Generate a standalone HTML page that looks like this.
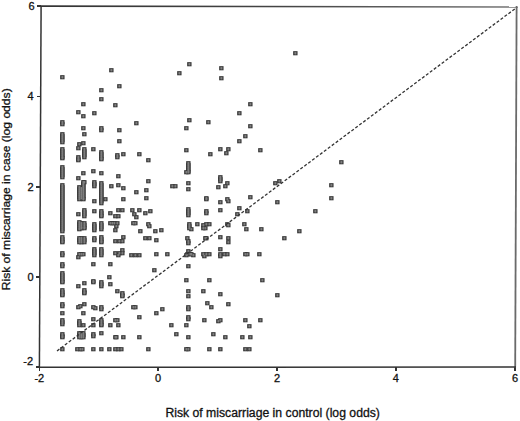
<!DOCTYPE html>
<html><head><meta charset="utf-8"><style>
html,body{margin:0;padding:0;background:#fff;}
body{width:520px;height:421px;overflow:hidden;}
svg{display:block;}
text{font-family:"Liberation Sans",sans-serif;fill:#111;stroke:#111;stroke-width:0.3px;}
</style></head><body>
<svg width="520" height="421" viewBox="0 0 520 421" shape-rendering="crispEdges">
<defs>
<linearGradient id="tg" x1="0" y1="0" x2="1" y2="0"><stop offset="0" stop-color="#333"/><stop offset="0.5" stop-color="#444"/><stop offset="1" stop-color="#777"/></linearGradient>
</defs>
<rect width="520" height="421" fill="#fff"/>
<g font-size="11">
<line x1="39.3" y1="367" x2="39.3" y2="370.5" stroke="#333" stroke-width="1.6"/>
<text x="39.3" y="382" text-anchor="middle">-2</text>
<line x1="158.1" y1="367" x2="158.1" y2="370.5" stroke="#333" stroke-width="1.6"/>
<text x="158.1" y="382" text-anchor="middle">0</text>
<line x1="277.1" y1="367" x2="277.1" y2="370.5" stroke="#333" stroke-width="1.6"/>
<text x="277.1" y="382" text-anchor="middle">2</text>
<line x1="395.8" y1="367" x2="395.8" y2="370.5" stroke="#333" stroke-width="1.6"/>
<text x="395.8" y="382" text-anchor="middle">4</text>
<line x1="515.1" y1="367" x2="515.1" y2="370.5" stroke="#333" stroke-width="1.6"/>
<text x="515.1" y="382" text-anchor="middle">6</text>
<line x1="37.2" y1="6.0" x2="41.0" y2="6.0" stroke="#333" stroke-width="1.6"/>
<text x="34.5" y="9.6" text-anchor="end">6</text>
<line x1="36.8" y1="96.3" x2="40.6" y2="96.3" stroke="#333" stroke-width="1.6"/>
<text x="33.5" y="100.3" text-anchor="end">4</text>
<line x1="36.3" y1="186.7" x2="40.1" y2="186.7" stroke="#333" stroke-width="1.6"/>
<text x="33.5" y="190.7" text-anchor="end">2</text>
<line x1="35.9" y1="276.8" x2="39.7" y2="276.8" stroke="#333" stroke-width="1.6"/>
<text x="33.5" y="280.8" text-anchor="end">0</text>
<line x1="35.5" y1="367.1" x2="39.3" y2="367.1" stroke="#333" stroke-width="1.6"/>
<text x="33.0" y="365.2" text-anchor="end">-2</text>
</g>
<line x1="37" y1="6.1" x2="518" y2="7.0" stroke="url(#tg)" stroke-width="1.6" shape-rendering="auto"/>
<line x1="516.6" y1="6" x2="515.2" y2="367.8" stroke="#6a6a6a" stroke-width="1.8" shape-rendering="auto"/>
<line x1="41.1" y1="6" x2="39.4" y2="368" stroke="#333" stroke-width="1.5" shape-rendering="auto"/>
<line x1="38.5" y1="367.2" x2="516" y2="367.1" stroke="#333" stroke-width="1.5" shape-rendering="auto"/>
<g>
<g shape-rendering="geometricPrecision"><g fill="#383838"><rect x="60.15" y="75.15" width="4.4" height="4.15"/><rect x="60.15" y="120.15" width="4.4" height="4.15"/><rect x="60.15" y="122.15" width="4.4" height="4.15"/><rect x="60.15" y="132.15" width="4.4" height="4.15"/><rect x="60.15" y="134.15" width="4.4" height="4.15"/><rect x="60.15" y="136.15" width="4.4" height="4.15"/><rect x="60.15" y="138.15" width="4.4" height="4.15"/><rect x="60.15" y="140.15" width="4.4" height="4.15"/><rect x="60.15" y="147.15" width="4.4" height="4.15"/><rect x="60.15" y="149.15" width="4.4" height="4.15"/><rect x="60.15" y="151.15" width="4.4" height="4.15"/><rect x="60.15" y="153.15" width="4.4" height="4.15"/><rect x="60.15" y="155.15" width="4.4" height="4.15"/><rect x="60.15" y="156.15" width="4.4" height="4.15"/><rect x="60.15" y="165.15" width="4.4" height="4.15"/><rect x="60.15" y="167.15" width="4.4" height="4.15"/><rect x="60.15" y="169.15" width="4.4" height="4.15"/><rect x="60.15" y="171.15" width="4.4" height="4.15"/><rect x="60.15" y="173.15" width="4.4" height="4.15"/><rect x="60.15" y="175.15" width="4.4" height="4.15"/><rect x="60.15" y="183.15" width="4.4" height="4.15"/><rect x="60.15" y="185.15" width="4.4" height="4.15"/><rect x="60.15" y="187.15" width="4.4" height="4.15"/><rect x="60.15" y="189.15" width="4.4" height="4.15"/><rect x="60.15" y="191.15" width="4.4" height="4.15"/><rect x="60.15" y="193.15" width="4.4" height="4.15"/><rect x="60.15" y="195.15" width="4.4" height="4.15"/><rect x="60.15" y="197.15" width="4.4" height="4.15"/><rect x="60.15" y="199.15" width="4.4" height="4.15"/><rect x="60.15" y="201.15" width="4.4" height="4.15"/><rect x="60.15" y="203.15" width="4.4" height="4.15"/><rect x="60.15" y="205.15" width="4.4" height="4.15"/><rect x="60.15" y="207.15" width="4.4" height="4.15"/><rect x="60.15" y="209.15" width="4.4" height="4.15"/><rect x="60.15" y="211.15" width="4.4" height="4.15"/><rect x="60.15" y="213.15" width="4.4" height="4.15"/><rect x="60.15" y="215.15" width="4.4" height="4.15"/><rect x="60.15" y="217.15" width="4.4" height="4.15"/><rect x="60.15" y="219.15" width="4.4" height="4.15"/><rect x="60.15" y="221.15" width="4.4" height="4.15"/><rect x="60.15" y="223.15" width="4.4" height="4.15"/><rect x="60.15" y="225.15" width="4.4" height="4.15"/><rect x="60.15" y="227.15" width="4.4" height="4.15"/><rect x="60.15" y="229.15" width="4.4" height="4.15"/><rect x="60.15" y="235.15" width="4.4" height="4.15"/><rect x="60.15" y="237.15" width="4.4" height="4.15"/><rect x="60.15" y="239.15" width="4.4" height="4.15"/><rect x="60.15" y="240.15" width="4.4" height="4.15"/><rect x="60.15" y="251.15" width="4.4" height="4.15"/><rect x="60.15" y="253.15" width="4.4" height="4.15"/><rect x="60.15" y="262.15" width="4.4" height="4.15"/><rect x="60.15" y="264.15" width="4.4" height="4.15"/><rect x="60.15" y="271.15" width="4.4" height="4.15"/><rect x="60.15" y="273.15" width="4.4" height="4.15"/><rect x="60.15" y="275.15" width="4.4" height="4.15"/><rect x="60.15" y="277.15" width="4.4" height="4.15"/><rect x="60.15" y="279.15" width="4.4" height="4.15"/><rect x="60.15" y="280.15" width="4.4" height="4.15"/><rect x="60.15" y="288.15" width="4.4" height="4.15"/><rect x="60.15" y="290.15" width="4.4" height="4.15"/><rect x="60.15" y="292.15" width="4.4" height="4.15"/><rect x="60.15" y="293.15" width="4.4" height="4.15"/><rect x="60.15" y="302.15" width="4.4" height="4.15"/><rect x="60.15" y="304.15" width="4.4" height="4.15"/><rect x="60.15" y="311.15" width="4.4" height="4.15"/><rect x="60.15" y="318.15" width="4.4" height="4.15"/><rect x="60.15" y="320.15" width="4.4" height="4.15"/><rect x="60.15" y="322.15" width="4.4" height="4.15"/><rect x="60.15" y="332.15" width="4.4" height="4.15"/><rect x="60.15" y="334.15" width="4.4" height="4.15"/><rect x="60.15" y="335.15" width="4.4" height="4.15"/><rect x="60.15" y="347.15" width="4.4" height="4.15"/><rect x="76.15" y="110.15" width="4.4" height="4.15"/><rect x="81.15" y="102.15" width="4.4" height="4.15"/><rect x="81.15" y="114.15" width="4.4" height="4.15"/><rect x="81.15" y="126.15" width="4.4" height="4.15"/><rect x="82.15" y="132.15" width="4.4" height="4.15"/><rect x="77.15" y="142.15" width="4.4" height="4.15"/><rect x="81.15" y="141.15" width="4.4" height="4.15"/><rect x="76.15" y="146.15" width="4.4" height="4.15"/><rect x="82.15" y="147.15" width="4.4" height="4.15"/><rect x="82.15" y="149.15" width="4.4" height="4.15"/><rect x="82.15" y="151.15" width="4.4" height="4.15"/><rect x="82.15" y="153.15" width="4.4" height="4.15"/><rect x="82.15" y="155.15" width="4.4" height="4.15"/><rect x="76.15" y="155.15" width="4.4" height="4.15"/><rect x="76.15" y="157.15" width="4.4" height="4.15"/><rect x="76.15" y="158.15" width="4.4" height="4.15"/><rect x="81.15" y="171.15" width="4.4" height="4.15"/><rect x="76.15" y="176.15" width="4.4" height="4.15"/><rect x="82.15" y="180.15" width="4.4" height="4.15"/><rect x="77.15" y="185.15" width="4.4" height="4.15"/><rect x="77.15" y="187.15" width="4.4" height="4.15"/><rect x="77.15" y="189.15" width="4.4" height="4.15"/><rect x="77.15" y="191.15" width="4.4" height="4.15"/><rect x="77.15" y="193.15" width="4.4" height="4.15"/><rect x="77.15" y="195.15" width="4.4" height="4.15"/><rect x="77.15" y="197.15" width="4.4" height="4.15"/><rect x="81.15" y="180.15" width="4.4" height="4.15"/><rect x="81.15" y="182.15" width="4.4" height="4.15"/><rect x="81.15" y="184.15" width="4.4" height="4.15"/><rect x="81.15" y="186.15" width="4.4" height="4.15"/><rect x="81.15" y="188.15" width="4.4" height="4.15"/><rect x="81.15" y="190.15" width="4.4" height="4.15"/><rect x="81.15" y="192.15" width="4.4" height="4.15"/><rect x="81.15" y="194.15" width="4.4" height="4.15"/><rect x="81.15" y="196.15" width="4.4" height="4.15"/><rect x="81.15" y="197.15" width="4.4" height="4.15"/><rect x="79.15" y="186.15" width="4.4" height="4.15"/><rect x="79.15" y="188.15" width="4.4" height="4.15"/><rect x="79.15" y="190.15" width="4.4" height="4.15"/><rect x="79.15" y="192.15" width="4.4" height="4.15"/><rect x="79.15" y="194.15" width="4.4" height="4.15"/><rect x="79.15" y="196.15" width="4.4" height="4.15"/><rect x="76.15" y="212.15" width="4.4" height="4.15"/><rect x="82.15" y="208.15" width="4.4" height="4.15"/><rect x="82.15" y="210.15" width="4.4" height="4.15"/><rect x="82.15" y="212.15" width="4.4" height="4.15"/><rect x="82.15" y="214.15" width="4.4" height="4.15"/><rect x="77.15" y="220.15" width="4.4" height="4.15"/><rect x="77.15" y="222.15" width="4.4" height="4.15"/><rect x="77.15" y="224.15" width="4.4" height="4.15"/><rect x="77.15" y="226.15" width="4.4" height="4.15"/><rect x="77.15" y="227.15" width="4.4" height="4.15"/><rect x="82.15" y="221.15" width="4.4" height="4.15"/><rect x="82.15" y="223.15" width="4.4" height="4.15"/><rect x="82.15" y="225.15" width="4.4" height="4.15"/><rect x="82.15" y="226.15" width="4.4" height="4.15"/><rect x="79.15" y="221.15" width="4.4" height="4.15"/><rect x="79.15" y="223.15" width="4.4" height="4.15"/><rect x="79.15" y="225.15" width="4.4" height="4.15"/><rect x="79.15" y="226.15" width="4.4" height="4.15"/><rect x="77.15" y="236.15" width="4.4" height="4.15"/><rect x="77.15" y="238.15" width="4.4" height="4.15"/><rect x="77.15" y="240.15" width="4.4" height="4.15"/><rect x="82.15" y="236.15" width="4.4" height="4.15"/><rect x="82.15" y="238.15" width="4.4" height="4.15"/><rect x="82.15" y="240.15" width="4.4" height="4.15"/><rect x="79.15" y="236.15" width="4.4" height="4.15"/><rect x="79.15" y="238.15" width="4.4" height="4.15"/><rect x="79.15" y="240.15" width="4.4" height="4.15"/><rect x="77.15" y="252.15" width="4.4" height="4.15"/><rect x="79.15" y="252.15" width="4.4" height="4.15"/><rect x="81.15" y="252.15" width="4.4" height="4.15"/><rect x="76.15" y="255.15" width="4.4" height="4.15"/><rect x="82.15" y="281.15" width="4.4" height="4.15"/><rect x="76.15" y="284.15" width="4.4" height="4.15"/><rect x="82.15" y="288.15" width="4.4" height="4.15"/><rect x="82.15" y="290.15" width="4.4" height="4.15"/><rect x="82.15" y="291.15" width="4.4" height="4.15"/><rect x="82.15" y="302.15" width="4.4" height="4.15"/><rect x="76.15" y="305.15" width="4.4" height="4.15"/><rect x="78.15" y="304.15" width="4.4" height="4.15"/><rect x="81.15" y="311.15" width="4.4" height="4.15"/><rect x="77.15" y="319.15" width="4.4" height="4.15"/><rect x="77.15" y="321.15" width="4.4" height="4.15"/><rect x="77.15" y="323.15" width="4.4" height="4.15"/><rect x="81.15" y="323.15" width="4.4" height="4.15"/><rect x="77.15" y="331.15" width="4.4" height="4.15"/><rect x="77.15" y="333.15" width="4.4" height="4.15"/><rect x="77.15" y="335.15" width="4.4" height="4.15"/><rect x="81.15" y="331.15" width="4.4" height="4.15"/><rect x="81.15" y="333.15" width="4.4" height="4.15"/><rect x="81.15" y="335.15" width="4.4" height="4.15"/><rect x="79.15" y="331.15" width="4.4" height="4.15"/><rect x="79.15" y="333.15" width="4.4" height="4.15"/><rect x="79.15" y="335.15" width="4.4" height="4.15"/><rect x="75.15" y="347.15" width="4.4" height="4.15"/><rect x="78.15" y="347.15" width="4.4" height="4.15"/><rect x="80.15" y="347.15" width="4.4" height="4.15"/><rect x="92.15" y="111.15" width="4.4" height="4.15"/><rect x="91.15" y="147.15" width="4.4" height="4.15"/><rect x="91.15" y="169.15" width="4.4" height="4.15"/><rect x="92.15" y="180.15" width="4.4" height="4.15"/><rect x="92.15" y="182.15" width="4.4" height="4.15"/><rect x="92.15" y="184.15" width="4.4" height="4.15"/><rect x="92.15" y="199.15" width="4.4" height="4.15"/><rect x="92.15" y="209.15" width="4.4" height="4.15"/><rect x="92.15" y="222.15" width="4.4" height="4.15"/><rect x="92.15" y="224.15" width="4.4" height="4.15"/><rect x="92.15" y="226.15" width="4.4" height="4.15"/><rect x="92.15" y="228.15" width="4.4" height="4.15"/><rect x="92.15" y="236.15" width="4.4" height="4.15"/><rect x="92.15" y="238.15" width="4.4" height="4.15"/><rect x="92.15" y="247.15" width="4.4" height="4.15"/><rect x="92.15" y="249.15" width="4.4" height="4.15"/><rect x="92.15" y="251.15" width="4.4" height="4.15"/><rect x="92.15" y="253.15" width="4.4" height="4.15"/><rect x="91.15" y="262.15" width="4.4" height="4.15"/><rect x="91.15" y="279.15" width="4.4" height="4.15"/><rect x="91.15" y="280.15" width="4.4" height="4.15"/><rect x="91.15" y="305.15" width="4.4" height="4.15"/><rect x="93.15" y="306.15" width="4.4" height="4.15"/><rect x="91.15" y="317.15" width="4.4" height="4.15"/><rect x="91.15" y="323.15" width="4.4" height="4.15"/><rect x="91.15" y="332.15" width="4.4" height="4.15"/><rect x="91.15" y="334.15" width="4.4" height="4.15"/><rect x="91.15" y="347.15" width="4.4" height="4.15"/><rect x="99.15" y="88.15" width="4.4" height="4.15"/><rect x="99.15" y="97.15" width="4.4" height="4.15"/><rect x="99.15" y="126.15" width="4.4" height="4.15"/><rect x="99.15" y="128.15" width="4.4" height="4.15"/><rect x="99.15" y="150.15" width="4.4" height="4.15"/><rect x="99.15" y="152.15" width="4.4" height="4.15"/><rect x="99.15" y="154.15" width="4.4" height="4.15"/><rect x="99.15" y="156.15" width="4.4" height="4.15"/><rect x="99.15" y="157.15" width="4.4" height="4.15"/><rect x="99.15" y="171.15" width="4.4" height="4.15"/><rect x="99.15" y="181.15" width="4.4" height="4.15"/><rect x="99.15" y="183.15" width="4.4" height="4.15"/><rect x="99.15" y="185.15" width="4.4" height="4.15"/><rect x="99.15" y="187.15" width="4.4" height="4.15"/><rect x="99.15" y="189.15" width="4.4" height="4.15"/><rect x="99.15" y="191.15" width="4.4" height="4.15"/><rect x="99.15" y="193.15" width="4.4" height="4.15"/><rect x="99.15" y="195.15" width="4.4" height="4.15"/><rect x="99.15" y="197.15" width="4.4" height="4.15"/><rect x="99.15" y="199.15" width="4.4" height="4.15"/><rect x="99.15" y="201.15" width="4.4" height="4.15"/><rect x="103.15" y="197.15" width="4.4" height="4.15"/><rect x="99.15" y="209.15" width="4.4" height="4.15"/><rect x="99.15" y="211.15" width="4.4" height="4.15"/><rect x="99.15" y="213.15" width="4.4" height="4.15"/><rect x="99.15" y="214.15" width="4.4" height="4.15"/><rect x="99.15" y="221.15" width="4.4" height="4.15"/><rect x="99.15" y="223.15" width="4.4" height="4.15"/><rect x="99.15" y="225.15" width="4.4" height="4.15"/><rect x="99.15" y="227.15" width="4.4" height="4.15"/><rect x="99.15" y="235.15" width="4.4" height="4.15"/><rect x="99.15" y="237.15" width="4.4" height="4.15"/><rect x="99.15" y="239.15" width="4.4" height="4.15"/><rect x="99.15" y="240.15" width="4.4" height="4.15"/><rect x="99.15" y="247.15" width="4.4" height="4.15"/><rect x="99.15" y="249.15" width="4.4" height="4.15"/><rect x="99.15" y="251.15" width="4.4" height="4.15"/><rect x="99.15" y="253.15" width="4.4" height="4.15"/><rect x="99.15" y="280.15" width="4.4" height="4.15"/><rect x="99.15" y="282.15" width="4.4" height="4.15"/><rect x="99.15" y="284.15" width="4.4" height="4.15"/><rect x="99.15" y="305.15" width="4.4" height="4.15"/><rect x="99.15" y="307.15" width="4.4" height="4.15"/><rect x="99.15" y="318.15" width="4.4" height="4.15"/><rect x="99.15" y="320.15" width="4.4" height="4.15"/><rect x="99.15" y="322.15" width="4.4" height="4.15"/><rect x="99.15" y="323.15" width="4.4" height="4.15"/><rect x="99.15" y="331.15" width="4.4" height="4.15"/><rect x="99.15" y="347.15" width="4.4" height="4.15"/><rect x="109.15" y="68.15" width="4.4" height="4.15"/><rect x="113.15" y="103.15" width="4.4" height="4.15"/><rect x="117.15" y="84.15" width="4.4" height="4.15"/><rect x="117.15" y="128.15" width="4.4" height="4.15"/><rect x="117.15" y="139.15" width="4.4" height="4.15"/><rect x="115.15" y="153.15" width="4.4" height="4.15"/><rect x="115.15" y="155.15" width="4.4" height="4.15"/><rect x="121.15" y="152.15" width="4.4" height="4.15"/><rect x="116.15" y="174.15" width="4.4" height="4.15"/><rect x="109.15" y="184.15" width="4.4" height="4.15"/><rect x="116.15" y="183.15" width="4.4" height="4.15"/><rect x="121.15" y="186.15" width="4.4" height="4.15"/><rect x="121.15" y="197.15" width="4.4" height="4.15"/><rect x="108.15" y="211.15" width="4.4" height="4.15"/><rect x="113.15" y="214.15" width="4.4" height="4.15"/><rect x="116.15" y="214.15" width="4.4" height="4.15"/><rect x="116.15" y="208.15" width="4.4" height="4.15"/><rect x="120.15" y="208.15" width="4.4" height="4.15"/><rect x="108.15" y="221.15" width="4.4" height="4.15"/><rect x="110.15" y="221.15" width="4.4" height="4.15"/><rect x="112.15" y="221.15" width="4.4" height="4.15"/><rect x="115.15" y="221.15" width="4.4" height="4.15"/><rect x="114.15" y="224.15" width="4.4" height="4.15"/><rect x="113.15" y="228.15" width="4.4" height="4.15"/><rect x="121.15" y="235.15" width="4.4" height="4.15"/><rect x="113.15" y="239.15" width="4.4" height="4.15"/><rect x="117.15" y="239.15" width="4.4" height="4.15"/><rect x="120.15" y="239.15" width="4.4" height="4.15"/><rect x="113.15" y="251.15" width="4.4" height="4.15"/><rect x="117.15" y="251.15" width="4.4" height="4.15"/><rect x="120.15" y="251.15" width="4.4" height="4.15"/><rect x="120.15" y="248.15" width="4.4" height="4.15"/><rect x="116.15" y="253.15" width="4.4" height="4.15"/><rect x="108.15" y="262.15" width="4.4" height="4.15"/><rect x="107.15" y="275.15" width="4.4" height="4.15"/><rect x="108.15" y="282.15" width="4.4" height="4.15"/><rect x="115.15" y="289.15" width="4.4" height="4.15"/><rect x="120.15" y="291.15" width="4.4" height="4.15"/><rect x="120.15" y="293.15" width="4.4" height="4.15"/><rect x="120.15" y="294.15" width="4.4" height="4.15"/><rect x="113.15" y="318.15" width="4.4" height="4.15"/><rect x="115.15" y="318.15" width="4.4" height="4.15"/><rect x="108.15" y="323.15" width="4.4" height="4.15"/><rect x="116.15" y="323.15" width="4.4" height="4.15"/><rect x="113.15" y="335.15" width="4.4" height="4.15"/><rect x="114.15" y="335.15" width="4.4" height="4.15"/><rect x="121.15" y="335.15" width="4.4" height="4.15"/><rect x="107.15" y="347.15" width="4.4" height="4.15"/><rect x="113.15" y="347.15" width="4.4" height="4.15"/><rect x="116.15" y="347.15" width="4.4" height="4.15"/><rect x="119.15" y="347.15" width="4.4" height="4.15"/><rect x="134.15" y="121.15" width="4.4" height="4.15"/><rect x="137.15" y="152.15" width="4.4" height="4.15"/><rect x="134.15" y="190.15" width="4.4" height="4.15"/><rect x="130.15" y="208.15" width="4.4" height="4.15"/><rect x="132.15" y="212.15" width="4.4" height="4.15"/><rect x="134.15" y="215.15" width="4.4" height="4.15"/><rect x="137.15" y="208.15" width="4.4" height="4.15"/><rect x="131.15" y="221.15" width="4.4" height="4.15"/><rect x="133.15" y="221.15" width="4.4" height="4.15"/><rect x="138.15" y="229.15" width="4.4" height="4.15"/><rect x="129.15" y="253.15" width="4.4" height="4.15"/><rect x="133.15" y="253.15" width="4.4" height="4.15"/><rect x="137.15" y="253.15" width="4.4" height="4.15"/><rect x="131.15" y="305.15" width="4.4" height="4.15"/><rect x="133.15" y="305.15" width="4.4" height="4.15"/><rect x="137.15" y="315.15" width="4.4" height="4.15"/><rect x="137.15" y="335.15" width="4.4" height="4.15"/><rect x="146.15" y="158.15" width="4.4" height="4.15"/><rect x="146.15" y="179.15" width="4.4" height="4.15"/><rect x="144.15" y="188.15" width="4.4" height="4.15"/><rect x="144.15" y="196.15" width="4.4" height="4.15"/><rect x="143.15" y="211.15" width="4.4" height="4.15"/><rect x="148.15" y="209.15" width="4.4" height="4.15"/><rect x="146.15" y="222.15" width="4.4" height="4.15"/><rect x="147.15" y="224.15" width="4.4" height="4.15"/><rect x="153.15" y="229.15" width="4.4" height="4.15"/><rect x="143.15" y="236.15" width="4.4" height="4.15"/><rect x="147.15" y="236.15" width="4.4" height="4.15"/><rect x="154.15" y="238.15" width="4.4" height="4.15"/><rect x="154.15" y="252.15" width="4.4" height="4.15"/><rect x="152.15" y="268.15" width="4.4" height="4.15"/><rect x="154.15" y="311.15" width="4.4" height="4.15"/><rect x="146.15" y="347.15" width="4.4" height="4.15"/><rect x="159.15" y="228.15" width="4.4" height="4.15"/><rect x="165.15" y="252.15" width="4.4" height="4.15"/><rect x="160.15" y="307.15" width="4.4" height="4.15"/><rect x="169.15" y="323.15" width="4.4" height="4.15"/><rect x="174.15" y="332.15" width="4.4" height="4.15"/><rect x="170.15" y="184.15" width="4.4" height="4.15"/><rect x="173.15" y="184.15" width="4.4" height="4.15"/><rect x="177.15" y="71.15" width="4.4" height="4.15"/><rect x="187.15" y="62.15" width="4.4" height="4.15"/><rect x="187.15" y="118.15" width="4.4" height="4.15"/><rect x="184.15" y="126.15" width="4.4" height="4.15"/><rect x="184.15" y="148.15" width="4.4" height="4.15"/><rect x="186.15" y="161.15" width="4.4" height="4.15"/><rect x="186.15" y="163.15" width="4.4" height="4.15"/><rect x="186.15" y="165.15" width="4.4" height="4.15"/><rect x="186.15" y="167.15" width="4.4" height="4.15"/><rect x="186.15" y="169.15" width="4.4" height="4.15"/><rect x="186.15" y="170.15" width="4.4" height="4.15"/><rect x="184.15" y="170.15" width="4.4" height="4.15"/><rect x="186.15" y="181.15" width="4.4" height="4.15"/><rect x="186.15" y="187.15" width="4.4" height="4.15"/><rect x="186.15" y="207.15" width="4.4" height="4.15"/><rect x="186.15" y="209.15" width="4.4" height="4.15"/><rect x="186.15" y="211.15" width="4.4" height="4.15"/><rect x="186.15" y="213.15" width="4.4" height="4.15"/><rect x="187.15" y="222.15" width="4.4" height="4.15"/><rect x="187.15" y="224.15" width="4.4" height="4.15"/><rect x="187.15" y="226.15" width="4.4" height="4.15"/><rect x="189.15" y="227.15" width="4.4" height="4.15"/><rect x="185.15" y="236.15" width="4.4" height="4.15"/><rect x="186.15" y="239.15" width="4.4" height="4.15"/><rect x="186.15" y="241.15" width="4.4" height="4.15"/><rect x="186.15" y="249.15" width="4.4" height="4.15"/><rect x="189.15" y="252.15" width="4.4" height="4.15"/><rect x="184.15" y="253.15" width="4.4" height="4.15"/><rect x="185.15" y="252.15" width="4.4" height="4.15"/><rect x="188.15" y="252.15" width="4.4" height="4.15"/><rect x="191.15" y="253.15" width="4.4" height="4.15"/><rect x="186.15" y="264.15" width="4.4" height="4.15"/><rect x="184.15" y="278.15" width="4.4" height="4.15"/><rect x="186.15" y="289.15" width="4.4" height="4.15"/><rect x="186.15" y="294.15" width="4.4" height="4.15"/><rect x="186.15" y="305.15" width="4.4" height="4.15"/><rect x="186.15" y="307.15" width="4.4" height="4.15"/><rect x="186.15" y="315.15" width="4.4" height="4.15"/><rect x="186.15" y="317.15" width="4.4" height="4.15"/><rect x="184.15" y="323.15" width="4.4" height="4.15"/><rect x="186.15" y="335.15" width="4.4" height="4.15"/><rect x="184.15" y="347.15" width="4.4" height="4.15"/><rect x="186.15" y="347.15" width="4.4" height="4.15"/><rect x="195.15" y="222.15" width="4.4" height="4.15"/><rect x="201.15" y="223.15" width="4.4" height="4.15"/><rect x="201.15" y="226.15" width="4.4" height="4.15"/><rect x="204.15" y="222.15" width="4.4" height="4.15"/><rect x="207.15" y="222.15" width="4.4" height="4.15"/><rect x="203.15" y="226.15" width="4.4" height="4.15"/><rect x="206.15" y="120.15" width="4.4" height="4.15"/><rect x="208.15" y="152.15" width="4.4" height="4.15"/><rect x="204.15" y="196.15" width="4.4" height="4.15"/><rect x="204.15" y="197.15" width="4.4" height="4.15"/><rect x="204.15" y="209.15" width="4.4" height="4.15"/><rect x="204.15" y="211.15" width="4.4" height="4.15"/><rect x="203.15" y="236.15" width="4.4" height="4.15"/><rect x="204.15" y="236.15" width="4.4" height="4.15"/><rect x="201.15" y="252.15" width="4.4" height="4.15"/><rect x="204.15" y="252.15" width="4.4" height="4.15"/><rect x="207.15" y="252.15" width="4.4" height="4.15"/><rect x="202.15" y="254.15" width="4.4" height="4.15"/><rect x="207.15" y="278.15" width="4.4" height="4.15"/><rect x="201.15" y="289.15" width="4.4" height="4.15"/><rect x="205.15" y="301.15" width="4.4" height="4.15"/><rect x="209.15" y="305.15" width="4.4" height="4.15"/><rect x="202.15" y="318.15" width="4.4" height="4.15"/><rect x="211.15" y="332.15" width="4.4" height="4.15"/><rect x="207.15" y="347.15" width="4.4" height="4.15"/><rect x="219.15" y="66.15" width="4.4" height="4.15"/><rect x="219.15" y="76.15" width="4.4" height="4.15"/><rect x="218.15" y="147.15" width="4.4" height="4.15"/><rect x="226.15" y="147.15" width="4.4" height="4.15"/><rect x="224.15" y="151.15" width="4.4" height="4.15"/><rect x="218.15" y="175.15" width="4.4" height="4.15"/><rect x="218.15" y="177.15" width="4.4" height="4.15"/><rect x="218.15" y="179.15" width="4.4" height="4.15"/><rect x="225.15" y="181.15" width="4.4" height="4.15"/><rect x="216.15" y="185.15" width="4.4" height="4.15"/><rect x="223.15" y="184.15" width="4.4" height="4.15"/><rect x="218.15" y="200.15" width="4.4" height="4.15"/><rect x="225.15" y="197.15" width="4.4" height="4.15"/><rect x="226.15" y="199.15" width="4.4" height="4.15"/><rect x="218.15" y="208.15" width="4.4" height="4.15"/><rect x="225.15" y="222.15" width="4.4" height="4.15"/><rect x="226.15" y="223.15" width="4.4" height="4.15"/><rect x="218.15" y="235.15" width="4.4" height="4.15"/><rect x="226.15" y="236.15" width="4.4" height="4.15"/><rect x="226.15" y="240.15" width="4.4" height="4.15"/><rect x="218.15" y="247.15" width="4.4" height="4.15"/><rect x="218.15" y="252.15" width="4.4" height="4.15"/><rect x="222.15" y="252.15" width="4.4" height="4.15"/><rect x="225.15" y="252.15" width="4.4" height="4.15"/><rect x="218.15" y="254.15" width="4.4" height="4.15"/><rect x="218.15" y="292.15" width="4.4" height="4.15"/><rect x="226.15" y="302.15" width="4.4" height="4.15"/><rect x="216.15" y="319.15" width="4.4" height="4.15"/><rect x="218.15" y="318.15" width="4.4" height="4.15"/><rect x="223.15" y="335.15" width="4.4" height="4.15"/><rect x="218.15" y="347.15" width="4.4" height="4.15"/><rect x="237.15" y="111.15" width="4.4" height="4.15"/><rect x="237.15" y="139.15" width="4.4" height="4.15"/><rect x="243.15" y="134.15" width="4.4" height="4.15"/><rect x="248.15" y="102.15" width="4.4" height="4.15"/><rect x="248.15" y="124.15" width="4.4" height="4.15"/><rect x="237.15" y="206.15" width="4.4" height="4.15"/><rect x="235.15" y="212.15" width="4.4" height="4.15"/><rect x="245.15" y="209.15" width="4.4" height="4.15"/><rect x="248.15" y="195.15" width="4.4" height="4.15"/><rect x="242.15" y="222.15" width="4.4" height="4.15"/><rect x="244.15" y="227.15" width="4.4" height="4.15"/><rect x="243.15" y="252.15" width="4.4" height="4.15"/><rect x="245.15" y="252.15" width="4.4" height="4.15"/><rect x="243.15" y="318.15" width="4.4" height="4.15"/><rect x="247.15" y="324.15" width="4.4" height="4.15"/><rect x="248.15" y="335.15" width="4.4" height="4.15"/><rect x="240.15" y="335.15" width="4.4" height="4.15"/><rect x="243.15" y="347.15" width="4.4" height="4.15"/><rect x="247.15" y="347.15" width="4.4" height="4.15"/><rect x="258.15" y="148.15" width="4.4" height="4.15"/><rect x="339.15" y="160.15" width="4.4" height="4.15"/><rect x="273.15" y="181.15" width="4.4" height="4.15"/><rect x="277.15" y="179.15" width="4.4" height="4.15"/><rect x="329.15" y="183.15" width="4.4" height="4.15"/><rect x="329.15" y="196.15" width="4.4" height="4.15"/><rect x="275.15" y="200.15" width="4.4" height="4.15"/><rect x="313.15" y="209.15" width="4.4" height="4.15"/><rect x="259.15" y="227.15" width="4.4" height="4.15"/><rect x="297.15" y="229.15" width="4.4" height="4.15"/><rect x="282.15" y="236.15" width="4.4" height="4.15"/><rect x="257.15" y="252.15" width="4.4" height="4.15"/><rect x="260.15" y="278.15" width="4.4" height="4.15"/><rect x="275.15" y="293.15" width="4.4" height="4.15"/><rect x="258.15" y="318.15" width="4.4" height="4.15"/><rect x="293.15" y="51.15" width="4.4" height="4.15"/></g>
<g fill="#6c6c6c"><rect x="61.15" y="76.15" width="2.40" height="2.15"/><rect x="61.15" y="121.15" width="2.40" height="2.15"/><rect x="61.15" y="123.15" width="2.40" height="2.15"/><rect x="61.15" y="133.15" width="2.40" height="2.15"/><rect x="61.15" y="135.15" width="2.40" height="2.15"/><rect x="61.15" y="137.15" width="2.40" height="2.15"/><rect x="61.15" y="139.15" width="2.40" height="2.15"/><rect x="61.15" y="141.15" width="2.40" height="2.15"/><rect x="61.15" y="148.15" width="2.40" height="2.15"/><rect x="61.15" y="150.15" width="2.40" height="2.15"/><rect x="61.15" y="152.15" width="2.40" height="2.15"/><rect x="61.15" y="154.15" width="2.40" height="2.15"/><rect x="61.15" y="156.15" width="2.40" height="2.15"/><rect x="61.15" y="157.15" width="2.40" height="2.15"/><rect x="61.15" y="166.15" width="2.40" height="2.15"/><rect x="61.15" y="168.15" width="2.40" height="2.15"/><rect x="61.15" y="170.15" width="2.40" height="2.15"/><rect x="61.15" y="172.15" width="2.40" height="2.15"/><rect x="61.15" y="174.15" width="2.40" height="2.15"/><rect x="61.15" y="176.15" width="2.40" height="2.15"/><rect x="61.15" y="184.15" width="2.40" height="2.15"/><rect x="61.15" y="186.15" width="2.40" height="2.15"/><rect x="61.15" y="188.15" width="2.40" height="2.15"/><rect x="61.15" y="190.15" width="2.40" height="2.15"/><rect x="61.15" y="192.15" width="2.40" height="2.15"/><rect x="61.15" y="194.15" width="2.40" height="2.15"/><rect x="61.15" y="196.15" width="2.40" height="2.15"/><rect x="61.15" y="198.15" width="2.40" height="2.15"/><rect x="61.15" y="200.15" width="2.40" height="2.15"/><rect x="61.15" y="202.15" width="2.40" height="2.15"/><rect x="61.15" y="204.15" width="2.40" height="2.15"/><rect x="61.15" y="206.15" width="2.40" height="2.15"/><rect x="61.15" y="208.15" width="2.40" height="2.15"/><rect x="61.15" y="210.15" width="2.40" height="2.15"/><rect x="61.15" y="212.15" width="2.40" height="2.15"/><rect x="61.15" y="214.15" width="2.40" height="2.15"/><rect x="61.15" y="216.15" width="2.40" height="2.15"/><rect x="61.15" y="218.15" width="2.40" height="2.15"/><rect x="61.15" y="220.15" width="2.40" height="2.15"/><rect x="61.15" y="222.15" width="2.40" height="2.15"/><rect x="61.15" y="224.15" width="2.40" height="2.15"/><rect x="61.15" y="226.15" width="2.40" height="2.15"/><rect x="61.15" y="228.15" width="2.40" height="2.15"/><rect x="61.15" y="230.15" width="2.40" height="2.15"/><rect x="61.15" y="236.15" width="2.40" height="2.15"/><rect x="61.15" y="238.15" width="2.40" height="2.15"/><rect x="61.15" y="240.15" width="2.40" height="2.15"/><rect x="61.15" y="241.15" width="2.40" height="2.15"/><rect x="61.15" y="252.15" width="2.40" height="2.15"/><rect x="61.15" y="254.15" width="2.40" height="2.15"/><rect x="61.15" y="263.15" width="2.40" height="2.15"/><rect x="61.15" y="265.15" width="2.40" height="2.15"/><rect x="61.15" y="272.15" width="2.40" height="2.15"/><rect x="61.15" y="274.15" width="2.40" height="2.15"/><rect x="61.15" y="276.15" width="2.40" height="2.15"/><rect x="61.15" y="278.15" width="2.40" height="2.15"/><rect x="61.15" y="280.15" width="2.40" height="2.15"/><rect x="61.15" y="281.15" width="2.40" height="2.15"/><rect x="61.15" y="289.15" width="2.40" height="2.15"/><rect x="61.15" y="291.15" width="2.40" height="2.15"/><rect x="61.15" y="293.15" width="2.40" height="2.15"/><rect x="61.15" y="294.15" width="2.40" height="2.15"/><rect x="61.15" y="303.15" width="2.40" height="2.15"/><rect x="61.15" y="305.15" width="2.40" height="2.15"/><rect x="61.15" y="312.15" width="2.40" height="2.15"/><rect x="61.15" y="319.15" width="2.40" height="2.15"/><rect x="61.15" y="321.15" width="2.40" height="2.15"/><rect x="61.15" y="323.15" width="2.40" height="2.15"/><rect x="61.15" y="333.15" width="2.40" height="2.15"/><rect x="61.15" y="335.15" width="2.40" height="2.15"/><rect x="61.15" y="336.15" width="2.40" height="2.15"/><rect x="61.15" y="348.15" width="2.40" height="2.15"/><rect x="77.15" y="111.15" width="2.40" height="2.15"/><rect x="82.15" y="103.15" width="2.40" height="2.15"/><rect x="82.15" y="115.15" width="2.40" height="2.15"/><rect x="82.15" y="127.15" width="2.40" height="2.15"/><rect x="83.15" y="133.15" width="2.40" height="2.15"/><rect x="78.15" y="143.15" width="2.40" height="2.15"/><rect x="82.15" y="142.15" width="2.40" height="2.15"/><rect x="77.15" y="147.15" width="2.40" height="2.15"/><rect x="83.15" y="148.15" width="2.40" height="2.15"/><rect x="83.15" y="150.15" width="2.40" height="2.15"/><rect x="83.15" y="152.15" width="2.40" height="2.15"/><rect x="83.15" y="154.15" width="2.40" height="2.15"/><rect x="83.15" y="156.15" width="2.40" height="2.15"/><rect x="77.15" y="156.15" width="2.40" height="2.15"/><rect x="77.15" y="158.15" width="2.40" height="2.15"/><rect x="77.15" y="159.15" width="2.40" height="2.15"/><rect x="82.15" y="172.15" width="2.40" height="2.15"/><rect x="77.15" y="177.15" width="2.40" height="2.15"/><rect x="83.15" y="181.15" width="2.40" height="2.15"/><rect x="78.15" y="186.15" width="2.40" height="2.15"/><rect x="78.15" y="188.15" width="2.40" height="2.15"/><rect x="78.15" y="190.15" width="2.40" height="2.15"/><rect x="78.15" y="192.15" width="2.40" height="2.15"/><rect x="78.15" y="194.15" width="2.40" height="2.15"/><rect x="78.15" y="196.15" width="2.40" height="2.15"/><rect x="78.15" y="198.15" width="2.40" height="2.15"/><rect x="82.15" y="181.15" width="2.40" height="2.15"/><rect x="82.15" y="183.15" width="2.40" height="2.15"/><rect x="82.15" y="185.15" width="2.40" height="2.15"/><rect x="82.15" y="187.15" width="2.40" height="2.15"/><rect x="82.15" y="189.15" width="2.40" height="2.15"/><rect x="82.15" y="191.15" width="2.40" height="2.15"/><rect x="82.15" y="193.15" width="2.40" height="2.15"/><rect x="82.15" y="195.15" width="2.40" height="2.15"/><rect x="82.15" y="197.15" width="2.40" height="2.15"/><rect x="82.15" y="198.15" width="2.40" height="2.15"/><rect x="80.15" y="187.15" width="2.40" height="2.15"/><rect x="80.15" y="189.15" width="2.40" height="2.15"/><rect x="80.15" y="191.15" width="2.40" height="2.15"/><rect x="80.15" y="193.15" width="2.40" height="2.15"/><rect x="80.15" y="195.15" width="2.40" height="2.15"/><rect x="80.15" y="197.15" width="2.40" height="2.15"/><rect x="77.15" y="213.15" width="2.40" height="2.15"/><rect x="83.15" y="209.15" width="2.40" height="2.15"/><rect x="83.15" y="211.15" width="2.40" height="2.15"/><rect x="83.15" y="213.15" width="2.40" height="2.15"/><rect x="83.15" y="215.15" width="2.40" height="2.15"/><rect x="78.15" y="221.15" width="2.40" height="2.15"/><rect x="78.15" y="223.15" width="2.40" height="2.15"/><rect x="78.15" y="225.15" width="2.40" height="2.15"/><rect x="78.15" y="227.15" width="2.40" height="2.15"/><rect x="78.15" y="228.15" width="2.40" height="2.15"/><rect x="83.15" y="222.15" width="2.40" height="2.15"/><rect x="83.15" y="224.15" width="2.40" height="2.15"/><rect x="83.15" y="226.15" width="2.40" height="2.15"/><rect x="83.15" y="227.15" width="2.40" height="2.15"/><rect x="80.15" y="222.15" width="2.40" height="2.15"/><rect x="80.15" y="224.15" width="2.40" height="2.15"/><rect x="80.15" y="226.15" width="2.40" height="2.15"/><rect x="80.15" y="227.15" width="2.40" height="2.15"/><rect x="78.15" y="237.15" width="2.40" height="2.15"/><rect x="78.15" y="239.15" width="2.40" height="2.15"/><rect x="78.15" y="241.15" width="2.40" height="2.15"/><rect x="83.15" y="237.15" width="2.40" height="2.15"/><rect x="83.15" y="239.15" width="2.40" height="2.15"/><rect x="83.15" y="241.15" width="2.40" height="2.15"/><rect x="80.15" y="237.15" width="2.40" height="2.15"/><rect x="80.15" y="239.15" width="2.40" height="2.15"/><rect x="80.15" y="241.15" width="2.40" height="2.15"/><rect x="78.15" y="253.15" width="2.40" height="2.15"/><rect x="80.15" y="253.15" width="2.40" height="2.15"/><rect x="82.15" y="253.15" width="2.40" height="2.15"/><rect x="77.15" y="256.15" width="2.40" height="2.15"/><rect x="83.15" y="282.15" width="2.40" height="2.15"/><rect x="77.15" y="285.15" width="2.40" height="2.15"/><rect x="83.15" y="289.15" width="2.40" height="2.15"/><rect x="83.15" y="291.15" width="2.40" height="2.15"/><rect x="83.15" y="292.15" width="2.40" height="2.15"/><rect x="83.15" y="303.15" width="2.40" height="2.15"/><rect x="77.15" y="306.15" width="2.40" height="2.15"/><rect x="79.15" y="305.15" width="2.40" height="2.15"/><rect x="82.15" y="312.15" width="2.40" height="2.15"/><rect x="78.15" y="320.15" width="2.40" height="2.15"/><rect x="78.15" y="322.15" width="2.40" height="2.15"/><rect x="78.15" y="324.15" width="2.40" height="2.15"/><rect x="82.15" y="324.15" width="2.40" height="2.15"/><rect x="78.15" y="332.15" width="2.40" height="2.15"/><rect x="78.15" y="334.15" width="2.40" height="2.15"/><rect x="78.15" y="336.15" width="2.40" height="2.15"/><rect x="82.15" y="332.15" width="2.40" height="2.15"/><rect x="82.15" y="334.15" width="2.40" height="2.15"/><rect x="82.15" y="336.15" width="2.40" height="2.15"/><rect x="80.15" y="332.15" width="2.40" height="2.15"/><rect x="80.15" y="334.15" width="2.40" height="2.15"/><rect x="80.15" y="336.15" width="2.40" height="2.15"/><rect x="76.15" y="348.15" width="2.40" height="2.15"/><rect x="79.15" y="348.15" width="2.40" height="2.15"/><rect x="81.15" y="348.15" width="2.40" height="2.15"/><rect x="93.15" y="112.15" width="2.40" height="2.15"/><rect x="92.15" y="148.15" width="2.40" height="2.15"/><rect x="92.15" y="170.15" width="2.40" height="2.15"/><rect x="93.15" y="181.15" width="2.40" height="2.15"/><rect x="93.15" y="183.15" width="2.40" height="2.15"/><rect x="93.15" y="185.15" width="2.40" height="2.15"/><rect x="93.15" y="200.15" width="2.40" height="2.15"/><rect x="93.15" y="210.15" width="2.40" height="2.15"/><rect x="93.15" y="223.15" width="2.40" height="2.15"/><rect x="93.15" y="225.15" width="2.40" height="2.15"/><rect x="93.15" y="227.15" width="2.40" height="2.15"/><rect x="93.15" y="229.15" width="2.40" height="2.15"/><rect x="93.15" y="237.15" width="2.40" height="2.15"/><rect x="93.15" y="239.15" width="2.40" height="2.15"/><rect x="93.15" y="248.15" width="2.40" height="2.15"/><rect x="93.15" y="250.15" width="2.40" height="2.15"/><rect x="93.15" y="252.15" width="2.40" height="2.15"/><rect x="93.15" y="254.15" width="2.40" height="2.15"/><rect x="92.15" y="263.15" width="2.40" height="2.15"/><rect x="92.15" y="280.15" width="2.40" height="2.15"/><rect x="92.15" y="281.15" width="2.40" height="2.15"/><rect x="92.15" y="306.15" width="2.40" height="2.15"/><rect x="94.15" y="307.15" width="2.40" height="2.15"/><rect x="92.15" y="318.15" width="2.40" height="2.15"/><rect x="92.15" y="324.15" width="2.40" height="2.15"/><rect x="92.15" y="333.15" width="2.40" height="2.15"/><rect x="92.15" y="335.15" width="2.40" height="2.15"/><rect x="92.15" y="348.15" width="2.40" height="2.15"/><rect x="100.15" y="89.15" width="2.40" height="2.15"/><rect x="100.15" y="98.15" width="2.40" height="2.15"/><rect x="100.15" y="127.15" width="2.40" height="2.15"/><rect x="100.15" y="129.15" width="2.40" height="2.15"/><rect x="100.15" y="151.15" width="2.40" height="2.15"/><rect x="100.15" y="153.15" width="2.40" height="2.15"/><rect x="100.15" y="155.15" width="2.40" height="2.15"/><rect x="100.15" y="157.15" width="2.40" height="2.15"/><rect x="100.15" y="158.15" width="2.40" height="2.15"/><rect x="100.15" y="172.15" width="2.40" height="2.15"/><rect x="100.15" y="182.15" width="2.40" height="2.15"/><rect x="100.15" y="184.15" width="2.40" height="2.15"/><rect x="100.15" y="186.15" width="2.40" height="2.15"/><rect x="100.15" y="188.15" width="2.40" height="2.15"/><rect x="100.15" y="190.15" width="2.40" height="2.15"/><rect x="100.15" y="192.15" width="2.40" height="2.15"/><rect x="100.15" y="194.15" width="2.40" height="2.15"/><rect x="100.15" y="196.15" width="2.40" height="2.15"/><rect x="100.15" y="198.15" width="2.40" height="2.15"/><rect x="100.15" y="200.15" width="2.40" height="2.15"/><rect x="100.15" y="202.15" width="2.40" height="2.15"/><rect x="104.15" y="198.15" width="2.40" height="2.15"/><rect x="100.15" y="210.15" width="2.40" height="2.15"/><rect x="100.15" y="212.15" width="2.40" height="2.15"/><rect x="100.15" y="214.15" width="2.40" height="2.15"/><rect x="100.15" y="215.15" width="2.40" height="2.15"/><rect x="100.15" y="222.15" width="2.40" height="2.15"/><rect x="100.15" y="224.15" width="2.40" height="2.15"/><rect x="100.15" y="226.15" width="2.40" height="2.15"/><rect x="100.15" y="228.15" width="2.40" height="2.15"/><rect x="100.15" y="236.15" width="2.40" height="2.15"/><rect x="100.15" y="238.15" width="2.40" height="2.15"/><rect x="100.15" y="240.15" width="2.40" height="2.15"/><rect x="100.15" y="241.15" width="2.40" height="2.15"/><rect x="100.15" y="248.15" width="2.40" height="2.15"/><rect x="100.15" y="250.15" width="2.40" height="2.15"/><rect x="100.15" y="252.15" width="2.40" height="2.15"/><rect x="100.15" y="254.15" width="2.40" height="2.15"/><rect x="100.15" y="281.15" width="2.40" height="2.15"/><rect x="100.15" y="283.15" width="2.40" height="2.15"/><rect x="100.15" y="285.15" width="2.40" height="2.15"/><rect x="100.15" y="306.15" width="2.40" height="2.15"/><rect x="100.15" y="308.15" width="2.40" height="2.15"/><rect x="100.15" y="319.15" width="2.40" height="2.15"/><rect x="100.15" y="321.15" width="2.40" height="2.15"/><rect x="100.15" y="323.15" width="2.40" height="2.15"/><rect x="100.15" y="324.15" width="2.40" height="2.15"/><rect x="100.15" y="332.15" width="2.40" height="2.15"/><rect x="100.15" y="348.15" width="2.40" height="2.15"/><rect x="110.15" y="69.15" width="2.40" height="2.15"/><rect x="114.15" y="104.15" width="2.40" height="2.15"/><rect x="118.15" y="85.15" width="2.40" height="2.15"/><rect x="118.15" y="129.15" width="2.40" height="2.15"/><rect x="118.15" y="140.15" width="2.40" height="2.15"/><rect x="116.15" y="154.15" width="2.40" height="2.15"/><rect x="116.15" y="156.15" width="2.40" height="2.15"/><rect x="122.15" y="153.15" width="2.40" height="2.15"/><rect x="117.15" y="175.15" width="2.40" height="2.15"/><rect x="110.15" y="185.15" width="2.40" height="2.15"/><rect x="117.15" y="184.15" width="2.40" height="2.15"/><rect x="122.15" y="187.15" width="2.40" height="2.15"/><rect x="122.15" y="198.15" width="2.40" height="2.15"/><rect x="109.15" y="212.15" width="2.40" height="2.15"/><rect x="114.15" y="215.15" width="2.40" height="2.15"/><rect x="117.15" y="215.15" width="2.40" height="2.15"/><rect x="117.15" y="209.15" width="2.40" height="2.15"/><rect x="121.15" y="209.15" width="2.40" height="2.15"/><rect x="109.15" y="222.15" width="2.40" height="2.15"/><rect x="111.15" y="222.15" width="2.40" height="2.15"/><rect x="113.15" y="222.15" width="2.40" height="2.15"/><rect x="116.15" y="222.15" width="2.40" height="2.15"/><rect x="115.15" y="225.15" width="2.40" height="2.15"/><rect x="114.15" y="229.15" width="2.40" height="2.15"/><rect x="122.15" y="236.15" width="2.40" height="2.15"/><rect x="114.15" y="240.15" width="2.40" height="2.15"/><rect x="118.15" y="240.15" width="2.40" height="2.15"/><rect x="121.15" y="240.15" width="2.40" height="2.15"/><rect x="114.15" y="252.15" width="2.40" height="2.15"/><rect x="118.15" y="252.15" width="2.40" height="2.15"/><rect x="121.15" y="252.15" width="2.40" height="2.15"/><rect x="121.15" y="249.15" width="2.40" height="2.15"/><rect x="117.15" y="254.15" width="2.40" height="2.15"/><rect x="109.15" y="263.15" width="2.40" height="2.15"/><rect x="108.15" y="276.15" width="2.40" height="2.15"/><rect x="109.15" y="283.15" width="2.40" height="2.15"/><rect x="116.15" y="290.15" width="2.40" height="2.15"/><rect x="121.15" y="292.15" width="2.40" height="2.15"/><rect x="121.15" y="294.15" width="2.40" height="2.15"/><rect x="121.15" y="295.15" width="2.40" height="2.15"/><rect x="114.15" y="319.15" width="2.40" height="2.15"/><rect x="116.15" y="319.15" width="2.40" height="2.15"/><rect x="109.15" y="324.15" width="2.40" height="2.15"/><rect x="117.15" y="324.15" width="2.40" height="2.15"/><rect x="114.15" y="336.15" width="2.40" height="2.15"/><rect x="115.15" y="336.15" width="2.40" height="2.15"/><rect x="122.15" y="336.15" width="2.40" height="2.15"/><rect x="108.15" y="348.15" width="2.40" height="2.15"/><rect x="114.15" y="348.15" width="2.40" height="2.15"/><rect x="117.15" y="348.15" width="2.40" height="2.15"/><rect x="120.15" y="348.15" width="2.40" height="2.15"/><rect x="135.15" y="122.15" width="2.40" height="2.15"/><rect x="138.15" y="153.15" width="2.40" height="2.15"/><rect x="135.15" y="191.15" width="2.40" height="2.15"/><rect x="131.15" y="209.15" width="2.40" height="2.15"/><rect x="133.15" y="213.15" width="2.40" height="2.15"/><rect x="135.15" y="216.15" width="2.40" height="2.15"/><rect x="138.15" y="209.15" width="2.40" height="2.15"/><rect x="132.15" y="222.15" width="2.40" height="2.15"/><rect x="134.15" y="222.15" width="2.40" height="2.15"/><rect x="139.15" y="230.15" width="2.40" height="2.15"/><rect x="130.15" y="254.15" width="2.40" height="2.15"/><rect x="134.15" y="254.15" width="2.40" height="2.15"/><rect x="138.15" y="254.15" width="2.40" height="2.15"/><rect x="132.15" y="306.15" width="2.40" height="2.15"/><rect x="134.15" y="306.15" width="2.40" height="2.15"/><rect x="138.15" y="316.15" width="2.40" height="2.15"/><rect x="138.15" y="336.15" width="2.40" height="2.15"/><rect x="147.15" y="159.15" width="2.40" height="2.15"/><rect x="147.15" y="180.15" width="2.40" height="2.15"/><rect x="145.15" y="189.15" width="2.40" height="2.15"/><rect x="145.15" y="197.15" width="2.40" height="2.15"/><rect x="144.15" y="212.15" width="2.40" height="2.15"/><rect x="149.15" y="210.15" width="2.40" height="2.15"/><rect x="147.15" y="223.15" width="2.40" height="2.15"/><rect x="148.15" y="225.15" width="2.40" height="2.15"/><rect x="154.15" y="230.15" width="2.40" height="2.15"/><rect x="144.15" y="237.15" width="2.40" height="2.15"/><rect x="148.15" y="237.15" width="2.40" height="2.15"/><rect x="155.15" y="239.15" width="2.40" height="2.15"/><rect x="155.15" y="253.15" width="2.40" height="2.15"/><rect x="153.15" y="269.15" width="2.40" height="2.15"/><rect x="155.15" y="312.15" width="2.40" height="2.15"/><rect x="147.15" y="348.15" width="2.40" height="2.15"/><rect x="160.15" y="229.15" width="2.40" height="2.15"/><rect x="166.15" y="253.15" width="2.40" height="2.15"/><rect x="161.15" y="308.15" width="2.40" height="2.15"/><rect x="170.15" y="324.15" width="2.40" height="2.15"/><rect x="175.15" y="333.15" width="2.40" height="2.15"/><rect x="171.15" y="185.15" width="2.40" height="2.15"/><rect x="174.15" y="185.15" width="2.40" height="2.15"/><rect x="178.15" y="72.15" width="2.40" height="2.15"/><rect x="188.15" y="63.15" width="2.40" height="2.15"/><rect x="188.15" y="119.15" width="2.40" height="2.15"/><rect x="185.15" y="127.15" width="2.40" height="2.15"/><rect x="185.15" y="149.15" width="2.40" height="2.15"/><rect x="187.15" y="162.15" width="2.40" height="2.15"/><rect x="187.15" y="164.15" width="2.40" height="2.15"/><rect x="187.15" y="166.15" width="2.40" height="2.15"/><rect x="187.15" y="168.15" width="2.40" height="2.15"/><rect x="187.15" y="170.15" width="2.40" height="2.15"/><rect x="187.15" y="171.15" width="2.40" height="2.15"/><rect x="185.15" y="171.15" width="2.40" height="2.15"/><rect x="187.15" y="182.15" width="2.40" height="2.15"/><rect x="187.15" y="188.15" width="2.40" height="2.15"/><rect x="187.15" y="208.15" width="2.40" height="2.15"/><rect x="187.15" y="210.15" width="2.40" height="2.15"/><rect x="187.15" y="212.15" width="2.40" height="2.15"/><rect x="187.15" y="214.15" width="2.40" height="2.15"/><rect x="188.15" y="223.15" width="2.40" height="2.15"/><rect x="188.15" y="225.15" width="2.40" height="2.15"/><rect x="188.15" y="227.15" width="2.40" height="2.15"/><rect x="190.15" y="228.15" width="2.40" height="2.15"/><rect x="186.15" y="237.15" width="2.40" height="2.15"/><rect x="187.15" y="240.15" width="2.40" height="2.15"/><rect x="187.15" y="242.15" width="2.40" height="2.15"/><rect x="187.15" y="250.15" width="2.40" height="2.15"/><rect x="190.15" y="253.15" width="2.40" height="2.15"/><rect x="185.15" y="254.15" width="2.40" height="2.15"/><rect x="186.15" y="253.15" width="2.40" height="2.15"/><rect x="189.15" y="253.15" width="2.40" height="2.15"/><rect x="192.15" y="254.15" width="2.40" height="2.15"/><rect x="187.15" y="265.15" width="2.40" height="2.15"/><rect x="185.15" y="279.15" width="2.40" height="2.15"/><rect x="187.15" y="290.15" width="2.40" height="2.15"/><rect x="187.15" y="295.15" width="2.40" height="2.15"/><rect x="187.15" y="306.15" width="2.40" height="2.15"/><rect x="187.15" y="308.15" width="2.40" height="2.15"/><rect x="187.15" y="316.15" width="2.40" height="2.15"/><rect x="187.15" y="318.15" width="2.40" height="2.15"/><rect x="185.15" y="324.15" width="2.40" height="2.15"/><rect x="187.15" y="336.15" width="2.40" height="2.15"/><rect x="185.15" y="348.15" width="2.40" height="2.15"/><rect x="187.15" y="348.15" width="2.40" height="2.15"/><rect x="196.15" y="223.15" width="2.40" height="2.15"/><rect x="202.15" y="224.15" width="2.40" height="2.15"/><rect x="202.15" y="227.15" width="2.40" height="2.15"/><rect x="205.15" y="223.15" width="2.40" height="2.15"/><rect x="208.15" y="223.15" width="2.40" height="2.15"/><rect x="204.15" y="227.15" width="2.40" height="2.15"/><rect x="207.15" y="121.15" width="2.40" height="2.15"/><rect x="209.15" y="153.15" width="2.40" height="2.15"/><rect x="205.15" y="197.15" width="2.40" height="2.15"/><rect x="205.15" y="198.15" width="2.40" height="2.15"/><rect x="205.15" y="210.15" width="2.40" height="2.15"/><rect x="205.15" y="212.15" width="2.40" height="2.15"/><rect x="204.15" y="237.15" width="2.40" height="2.15"/><rect x="205.15" y="237.15" width="2.40" height="2.15"/><rect x="202.15" y="253.15" width="2.40" height="2.15"/><rect x="205.15" y="253.15" width="2.40" height="2.15"/><rect x="208.15" y="253.15" width="2.40" height="2.15"/><rect x="203.15" y="255.15" width="2.40" height="2.15"/><rect x="208.15" y="279.15" width="2.40" height="2.15"/><rect x="202.15" y="290.15" width="2.40" height="2.15"/><rect x="206.15" y="302.15" width="2.40" height="2.15"/><rect x="210.15" y="306.15" width="2.40" height="2.15"/><rect x="203.15" y="319.15" width="2.40" height="2.15"/><rect x="212.15" y="333.15" width="2.40" height="2.15"/><rect x="208.15" y="348.15" width="2.40" height="2.15"/><rect x="220.15" y="67.15" width="2.40" height="2.15"/><rect x="220.15" y="77.15" width="2.40" height="2.15"/><rect x="219.15" y="148.15" width="2.40" height="2.15"/><rect x="227.15" y="148.15" width="2.40" height="2.15"/><rect x="225.15" y="152.15" width="2.40" height="2.15"/><rect x="219.15" y="176.15" width="2.40" height="2.15"/><rect x="219.15" y="178.15" width="2.40" height="2.15"/><rect x="219.15" y="180.15" width="2.40" height="2.15"/><rect x="226.15" y="182.15" width="2.40" height="2.15"/><rect x="217.15" y="186.15" width="2.40" height="2.15"/><rect x="224.15" y="185.15" width="2.40" height="2.15"/><rect x="219.15" y="201.15" width="2.40" height="2.15"/><rect x="226.15" y="198.15" width="2.40" height="2.15"/><rect x="227.15" y="200.15" width="2.40" height="2.15"/><rect x="219.15" y="209.15" width="2.40" height="2.15"/><rect x="226.15" y="223.15" width="2.40" height="2.15"/><rect x="227.15" y="224.15" width="2.40" height="2.15"/><rect x="219.15" y="236.15" width="2.40" height="2.15"/><rect x="227.15" y="237.15" width="2.40" height="2.15"/><rect x="227.15" y="241.15" width="2.40" height="2.15"/><rect x="219.15" y="248.15" width="2.40" height="2.15"/><rect x="219.15" y="253.15" width="2.40" height="2.15"/><rect x="223.15" y="253.15" width="2.40" height="2.15"/><rect x="226.15" y="253.15" width="2.40" height="2.15"/><rect x="219.15" y="255.15" width="2.40" height="2.15"/><rect x="219.15" y="293.15" width="2.40" height="2.15"/><rect x="227.15" y="303.15" width="2.40" height="2.15"/><rect x="217.15" y="320.15" width="2.40" height="2.15"/><rect x="219.15" y="319.15" width="2.40" height="2.15"/><rect x="224.15" y="336.15" width="2.40" height="2.15"/><rect x="219.15" y="348.15" width="2.40" height="2.15"/><rect x="238.15" y="112.15" width="2.40" height="2.15"/><rect x="238.15" y="140.15" width="2.40" height="2.15"/><rect x="244.15" y="135.15" width="2.40" height="2.15"/><rect x="249.15" y="103.15" width="2.40" height="2.15"/><rect x="249.15" y="125.15" width="2.40" height="2.15"/><rect x="238.15" y="207.15" width="2.40" height="2.15"/><rect x="236.15" y="213.15" width="2.40" height="2.15"/><rect x="246.15" y="210.15" width="2.40" height="2.15"/><rect x="249.15" y="196.15" width="2.40" height="2.15"/><rect x="243.15" y="223.15" width="2.40" height="2.15"/><rect x="245.15" y="228.15" width="2.40" height="2.15"/><rect x="244.15" y="253.15" width="2.40" height="2.15"/><rect x="246.15" y="253.15" width="2.40" height="2.15"/><rect x="244.15" y="319.15" width="2.40" height="2.15"/><rect x="248.15" y="325.15" width="2.40" height="2.15"/><rect x="249.15" y="336.15" width="2.40" height="2.15"/><rect x="241.15" y="336.15" width="2.40" height="2.15"/><rect x="244.15" y="348.15" width="2.40" height="2.15"/><rect x="248.15" y="348.15" width="2.40" height="2.15"/><rect x="259.15" y="149.15" width="2.40" height="2.15"/><rect x="340.15" y="161.15" width="2.40" height="2.15"/><rect x="274.15" y="182.15" width="2.40" height="2.15"/><rect x="278.15" y="180.15" width="2.40" height="2.15"/><rect x="330.15" y="184.15" width="2.40" height="2.15"/><rect x="330.15" y="197.15" width="2.40" height="2.15"/><rect x="276.15" y="201.15" width="2.40" height="2.15"/><rect x="314.15" y="210.15" width="2.40" height="2.15"/><rect x="260.15" y="228.15" width="2.40" height="2.15"/><rect x="298.15" y="230.15" width="2.40" height="2.15"/><rect x="283.15" y="237.15" width="2.40" height="2.15"/><rect x="258.15" y="253.15" width="2.40" height="2.15"/><rect x="261.15" y="279.15" width="2.40" height="2.15"/><rect x="276.15" y="294.15" width="2.40" height="2.15"/><rect x="259.15" y="319.15" width="2.40" height="2.15"/><rect x="294.15" y="52.15" width="2.40" height="2.15"/></g>
<g fill="#808080"><rect x="62" y="76.15" width="1" height="2.15"/><rect x="62" y="121.15" width="1" height="2.15"/><rect x="62" y="123.15" width="1" height="2.15"/><rect x="62" y="133.15" width="1" height="2.15"/><rect x="62" y="135.15" width="1" height="2.15"/><rect x="62" y="137.15" width="1" height="2.15"/><rect x="62" y="139.15" width="1" height="2.15"/><rect x="62" y="141.15" width="1" height="2.15"/><rect x="62" y="148.15" width="1" height="2.15"/><rect x="62" y="150.15" width="1" height="2.15"/><rect x="62" y="152.15" width="1" height="2.15"/><rect x="62" y="154.15" width="1" height="2.15"/><rect x="62" y="156.15" width="1" height="2.15"/><rect x="62" y="157.15" width="1" height="2.15"/><rect x="62" y="166.15" width="1" height="2.15"/><rect x="62" y="168.15" width="1" height="2.15"/><rect x="62" y="170.15" width="1" height="2.15"/><rect x="62" y="172.15" width="1" height="2.15"/><rect x="62" y="174.15" width="1" height="2.15"/><rect x="62" y="176.15" width="1" height="2.15"/><rect x="62" y="184.15" width="1" height="2.15"/><rect x="62" y="186.15" width="1" height="2.15"/><rect x="62" y="188.15" width="1" height="2.15"/><rect x="62" y="190.15" width="1" height="2.15"/><rect x="62" y="192.15" width="1" height="2.15"/><rect x="62" y="194.15" width="1" height="2.15"/><rect x="62" y="196.15" width="1" height="2.15"/><rect x="62" y="198.15" width="1" height="2.15"/><rect x="62" y="200.15" width="1" height="2.15"/><rect x="62" y="202.15" width="1" height="2.15"/><rect x="62" y="204.15" width="1" height="2.15"/><rect x="62" y="206.15" width="1" height="2.15"/><rect x="62" y="208.15" width="1" height="2.15"/><rect x="62" y="210.15" width="1" height="2.15"/><rect x="62" y="212.15" width="1" height="2.15"/><rect x="62" y="214.15" width="1" height="2.15"/><rect x="62" y="216.15" width="1" height="2.15"/><rect x="62" y="218.15" width="1" height="2.15"/><rect x="62" y="220.15" width="1" height="2.15"/><rect x="62" y="222.15" width="1" height="2.15"/><rect x="62" y="224.15" width="1" height="2.15"/><rect x="62" y="226.15" width="1" height="2.15"/><rect x="62" y="228.15" width="1" height="2.15"/><rect x="62" y="230.15" width="1" height="2.15"/><rect x="62" y="236.15" width="1" height="2.15"/><rect x="62" y="238.15" width="1" height="2.15"/><rect x="62" y="240.15" width="1" height="2.15"/><rect x="62" y="241.15" width="1" height="2.15"/><rect x="62" y="252.15" width="1" height="2.15"/><rect x="62" y="254.15" width="1" height="2.15"/><rect x="62" y="263.15" width="1" height="2.15"/><rect x="62" y="265.15" width="1" height="2.15"/><rect x="62" y="272.15" width="1" height="2.15"/><rect x="62" y="274.15" width="1" height="2.15"/><rect x="62" y="276.15" width="1" height="2.15"/><rect x="62" y="278.15" width="1" height="2.15"/><rect x="62" y="280.15" width="1" height="2.15"/><rect x="62" y="281.15" width="1" height="2.15"/><rect x="62" y="289.15" width="1" height="2.15"/><rect x="62" y="291.15" width="1" height="2.15"/><rect x="62" y="293.15" width="1" height="2.15"/><rect x="62" y="294.15" width="1" height="2.15"/><rect x="62" y="303.15" width="1" height="2.15"/><rect x="62" y="305.15" width="1" height="2.15"/><rect x="62" y="312.15" width="1" height="2.15"/><rect x="62" y="319.15" width="1" height="2.15"/><rect x="62" y="321.15" width="1" height="2.15"/><rect x="62" y="323.15" width="1" height="2.15"/><rect x="62" y="333.15" width="1" height="2.15"/><rect x="62" y="335.15" width="1" height="2.15"/><rect x="62" y="336.15" width="1" height="2.15"/><rect x="62" y="348.15" width="1" height="2.15"/><rect x="78" y="111.15" width="1" height="2.15"/><rect x="83" y="103.15" width="1" height="2.15"/><rect x="83" y="115.15" width="1" height="2.15"/><rect x="83" y="127.15" width="1" height="2.15"/><rect x="84" y="133.15" width="1" height="2.15"/><rect x="79" y="143.15" width="1" height="2.15"/><rect x="83" y="142.15" width="1" height="2.15"/><rect x="78" y="147.15" width="1" height="2.15"/><rect x="84" y="148.15" width="1" height="2.15"/><rect x="84" y="150.15" width="1" height="2.15"/><rect x="84" y="152.15" width="1" height="2.15"/><rect x="84" y="154.15" width="1" height="2.15"/><rect x="84" y="156.15" width="1" height="2.15"/><rect x="78" y="156.15" width="1" height="2.15"/><rect x="78" y="158.15" width="1" height="2.15"/><rect x="78" y="159.15" width="1" height="2.15"/><rect x="83" y="172.15" width="1" height="2.15"/><rect x="78" y="177.15" width="1" height="2.15"/><rect x="84" y="181.15" width="1" height="2.15"/><rect x="79" y="186.15" width="1" height="2.15"/><rect x="79" y="188.15" width="1" height="2.15"/><rect x="79" y="190.15" width="1" height="2.15"/><rect x="79" y="192.15" width="1" height="2.15"/><rect x="79" y="194.15" width="1" height="2.15"/><rect x="79" y="196.15" width="1" height="2.15"/><rect x="79" y="198.15" width="1" height="2.15"/><rect x="83" y="181.15" width="1" height="2.15"/><rect x="83" y="183.15" width="1" height="2.15"/><rect x="83" y="185.15" width="1" height="2.15"/><rect x="83" y="187.15" width="1" height="2.15"/><rect x="83" y="189.15" width="1" height="2.15"/><rect x="83" y="191.15" width="1" height="2.15"/><rect x="83" y="193.15" width="1" height="2.15"/><rect x="83" y="195.15" width="1" height="2.15"/><rect x="83" y="197.15" width="1" height="2.15"/><rect x="83" y="198.15" width="1" height="2.15"/><rect x="81" y="187.15" width="1" height="2.15"/><rect x="81" y="189.15" width="1" height="2.15"/><rect x="81" y="191.15" width="1" height="2.15"/><rect x="81" y="193.15" width="1" height="2.15"/><rect x="81" y="195.15" width="1" height="2.15"/><rect x="81" y="197.15" width="1" height="2.15"/><rect x="78" y="213.15" width="1" height="2.15"/><rect x="84" y="209.15" width="1" height="2.15"/><rect x="84" y="211.15" width="1" height="2.15"/><rect x="84" y="213.15" width="1" height="2.15"/><rect x="84" y="215.15" width="1" height="2.15"/><rect x="79" y="221.15" width="1" height="2.15"/><rect x="79" y="223.15" width="1" height="2.15"/><rect x="79" y="225.15" width="1" height="2.15"/><rect x="79" y="227.15" width="1" height="2.15"/><rect x="79" y="228.15" width="1" height="2.15"/><rect x="84" y="222.15" width="1" height="2.15"/><rect x="84" y="224.15" width="1" height="2.15"/><rect x="84" y="226.15" width="1" height="2.15"/><rect x="84" y="227.15" width="1" height="2.15"/><rect x="81" y="222.15" width="1" height="2.15"/><rect x="81" y="224.15" width="1" height="2.15"/><rect x="81" y="226.15" width="1" height="2.15"/><rect x="81" y="227.15" width="1" height="2.15"/><rect x="79" y="237.15" width="1" height="2.15"/><rect x="79" y="239.15" width="1" height="2.15"/><rect x="79" y="241.15" width="1" height="2.15"/><rect x="84" y="237.15" width="1" height="2.15"/><rect x="84" y="239.15" width="1" height="2.15"/><rect x="84" y="241.15" width="1" height="2.15"/><rect x="81" y="237.15" width="1" height="2.15"/><rect x="81" y="239.15" width="1" height="2.15"/><rect x="81" y="241.15" width="1" height="2.15"/><rect x="79" y="253.15" width="1" height="2.15"/><rect x="81" y="253.15" width="1" height="2.15"/><rect x="83" y="253.15" width="1" height="2.15"/><rect x="78" y="256.15" width="1" height="2.15"/><rect x="84" y="282.15" width="1" height="2.15"/><rect x="78" y="285.15" width="1" height="2.15"/><rect x="84" y="289.15" width="1" height="2.15"/><rect x="84" y="291.15" width="1" height="2.15"/><rect x="84" y="292.15" width="1" height="2.15"/><rect x="84" y="303.15" width="1" height="2.15"/><rect x="78" y="306.15" width="1" height="2.15"/><rect x="80" y="305.15" width="1" height="2.15"/><rect x="83" y="312.15" width="1" height="2.15"/><rect x="79" y="320.15" width="1" height="2.15"/><rect x="79" y="322.15" width="1" height="2.15"/><rect x="79" y="324.15" width="1" height="2.15"/><rect x="83" y="324.15" width="1" height="2.15"/><rect x="79" y="332.15" width="1" height="2.15"/><rect x="79" y="334.15" width="1" height="2.15"/><rect x="79" y="336.15" width="1" height="2.15"/><rect x="83" y="332.15" width="1" height="2.15"/><rect x="83" y="334.15" width="1" height="2.15"/><rect x="83" y="336.15" width="1" height="2.15"/><rect x="81" y="332.15" width="1" height="2.15"/><rect x="81" y="334.15" width="1" height="2.15"/><rect x="81" y="336.15" width="1" height="2.15"/><rect x="77" y="348.15" width="1" height="2.15"/><rect x="80" y="348.15" width="1" height="2.15"/><rect x="82" y="348.15" width="1" height="2.15"/><rect x="94" y="112.15" width="1" height="2.15"/><rect x="93" y="148.15" width="1" height="2.15"/><rect x="93" y="170.15" width="1" height="2.15"/><rect x="94" y="181.15" width="1" height="2.15"/><rect x="94" y="183.15" width="1" height="2.15"/><rect x="94" y="185.15" width="1" height="2.15"/><rect x="94" y="200.15" width="1" height="2.15"/><rect x="94" y="210.15" width="1" height="2.15"/><rect x="94" y="223.15" width="1" height="2.15"/><rect x="94" y="225.15" width="1" height="2.15"/><rect x="94" y="227.15" width="1" height="2.15"/><rect x="94" y="229.15" width="1" height="2.15"/><rect x="94" y="237.15" width="1" height="2.15"/><rect x="94" y="239.15" width="1" height="2.15"/><rect x="94" y="248.15" width="1" height="2.15"/><rect x="94" y="250.15" width="1" height="2.15"/><rect x="94" y="252.15" width="1" height="2.15"/><rect x="94" y="254.15" width="1" height="2.15"/><rect x="93" y="263.15" width="1" height="2.15"/><rect x="93" y="280.15" width="1" height="2.15"/><rect x="93" y="281.15" width="1" height="2.15"/><rect x="93" y="306.15" width="1" height="2.15"/><rect x="95" y="307.15" width="1" height="2.15"/><rect x="93" y="318.15" width="1" height="2.15"/><rect x="93" y="324.15" width="1" height="2.15"/><rect x="93" y="333.15" width="1" height="2.15"/><rect x="93" y="335.15" width="1" height="2.15"/><rect x="93" y="348.15" width="1" height="2.15"/><rect x="101" y="89.15" width="1" height="2.15"/><rect x="101" y="98.15" width="1" height="2.15"/><rect x="101" y="127.15" width="1" height="2.15"/><rect x="101" y="129.15" width="1" height="2.15"/><rect x="101" y="151.15" width="1" height="2.15"/><rect x="101" y="153.15" width="1" height="2.15"/><rect x="101" y="155.15" width="1" height="2.15"/><rect x="101" y="157.15" width="1" height="2.15"/><rect x="101" y="158.15" width="1" height="2.15"/><rect x="101" y="172.15" width="1" height="2.15"/><rect x="101" y="182.15" width="1" height="2.15"/><rect x="101" y="184.15" width="1" height="2.15"/><rect x="101" y="186.15" width="1" height="2.15"/><rect x="101" y="188.15" width="1" height="2.15"/><rect x="101" y="190.15" width="1" height="2.15"/><rect x="101" y="192.15" width="1" height="2.15"/><rect x="101" y="194.15" width="1" height="2.15"/><rect x="101" y="196.15" width="1" height="2.15"/><rect x="101" y="198.15" width="1" height="2.15"/><rect x="101" y="200.15" width="1" height="2.15"/><rect x="101" y="202.15" width="1" height="2.15"/><rect x="105" y="198.15" width="1" height="2.15"/><rect x="101" y="210.15" width="1" height="2.15"/><rect x="101" y="212.15" width="1" height="2.15"/><rect x="101" y="214.15" width="1" height="2.15"/><rect x="101" y="215.15" width="1" height="2.15"/><rect x="101" y="222.15" width="1" height="2.15"/><rect x="101" y="224.15" width="1" height="2.15"/><rect x="101" y="226.15" width="1" height="2.15"/><rect x="101" y="228.15" width="1" height="2.15"/><rect x="101" y="236.15" width="1" height="2.15"/><rect x="101" y="238.15" width="1" height="2.15"/><rect x="101" y="240.15" width="1" height="2.15"/><rect x="101" y="241.15" width="1" height="2.15"/><rect x="101" y="248.15" width="1" height="2.15"/><rect x="101" y="250.15" width="1" height="2.15"/><rect x="101" y="252.15" width="1" height="2.15"/><rect x="101" y="254.15" width="1" height="2.15"/><rect x="101" y="281.15" width="1" height="2.15"/><rect x="101" y="283.15" width="1" height="2.15"/><rect x="101" y="285.15" width="1" height="2.15"/><rect x="101" y="306.15" width="1" height="2.15"/><rect x="101" y="308.15" width="1" height="2.15"/><rect x="101" y="319.15" width="1" height="2.15"/><rect x="101" y="321.15" width="1" height="2.15"/><rect x="101" y="323.15" width="1" height="2.15"/><rect x="101" y="324.15" width="1" height="2.15"/><rect x="101" y="332.15" width="1" height="2.15"/><rect x="101" y="348.15" width="1" height="2.15"/><rect x="111" y="69.15" width="1" height="2.15"/><rect x="115" y="104.15" width="1" height="2.15"/><rect x="119" y="85.15" width="1" height="2.15"/><rect x="119" y="129.15" width="1" height="2.15"/><rect x="119" y="140.15" width="1" height="2.15"/><rect x="117" y="154.15" width="1" height="2.15"/><rect x="117" y="156.15" width="1" height="2.15"/><rect x="123" y="153.15" width="1" height="2.15"/><rect x="118" y="175.15" width="1" height="2.15"/><rect x="111" y="185.15" width="1" height="2.15"/><rect x="118" y="184.15" width="1" height="2.15"/><rect x="123" y="187.15" width="1" height="2.15"/><rect x="123" y="198.15" width="1" height="2.15"/><rect x="110" y="212.15" width="1" height="2.15"/><rect x="115" y="215.15" width="1" height="2.15"/><rect x="118" y="215.15" width="1" height="2.15"/><rect x="118" y="209.15" width="1" height="2.15"/><rect x="122" y="209.15" width="1" height="2.15"/><rect x="110" y="222.15" width="1" height="2.15"/><rect x="112" y="222.15" width="1" height="2.15"/><rect x="114" y="222.15" width="1" height="2.15"/><rect x="117" y="222.15" width="1" height="2.15"/><rect x="116" y="225.15" width="1" height="2.15"/><rect x="115" y="229.15" width="1" height="2.15"/><rect x="123" y="236.15" width="1" height="2.15"/><rect x="115" y="240.15" width="1" height="2.15"/><rect x="119" y="240.15" width="1" height="2.15"/><rect x="122" y="240.15" width="1" height="2.15"/><rect x="115" y="252.15" width="1" height="2.15"/><rect x="119" y="252.15" width="1" height="2.15"/><rect x="122" y="252.15" width="1" height="2.15"/><rect x="122" y="249.15" width="1" height="2.15"/><rect x="118" y="254.15" width="1" height="2.15"/><rect x="110" y="263.15" width="1" height="2.15"/><rect x="109" y="276.15" width="1" height="2.15"/><rect x="110" y="283.15" width="1" height="2.15"/><rect x="117" y="290.15" width="1" height="2.15"/><rect x="122" y="292.15" width="1" height="2.15"/><rect x="122" y="294.15" width="1" height="2.15"/><rect x="122" y="295.15" width="1" height="2.15"/><rect x="115" y="319.15" width="1" height="2.15"/><rect x="117" y="319.15" width="1" height="2.15"/><rect x="110" y="324.15" width="1" height="2.15"/><rect x="118" y="324.15" width="1" height="2.15"/><rect x="115" y="336.15" width="1" height="2.15"/><rect x="116" y="336.15" width="1" height="2.15"/><rect x="123" y="336.15" width="1" height="2.15"/><rect x="109" y="348.15" width="1" height="2.15"/><rect x="115" y="348.15" width="1" height="2.15"/><rect x="118" y="348.15" width="1" height="2.15"/><rect x="121" y="348.15" width="1" height="2.15"/><rect x="136" y="122.15" width="1" height="2.15"/><rect x="139" y="153.15" width="1" height="2.15"/><rect x="136" y="191.15" width="1" height="2.15"/><rect x="132" y="209.15" width="1" height="2.15"/><rect x="134" y="213.15" width="1" height="2.15"/><rect x="136" y="216.15" width="1" height="2.15"/><rect x="139" y="209.15" width="1" height="2.15"/><rect x="133" y="222.15" width="1" height="2.15"/><rect x="135" y="222.15" width="1" height="2.15"/><rect x="140" y="230.15" width="1" height="2.15"/><rect x="131" y="254.15" width="1" height="2.15"/><rect x="135" y="254.15" width="1" height="2.15"/><rect x="139" y="254.15" width="1" height="2.15"/><rect x="133" y="306.15" width="1" height="2.15"/><rect x="135" y="306.15" width="1" height="2.15"/><rect x="139" y="316.15" width="1" height="2.15"/><rect x="139" y="336.15" width="1" height="2.15"/><rect x="148" y="159.15" width="1" height="2.15"/><rect x="148" y="180.15" width="1" height="2.15"/><rect x="146" y="189.15" width="1" height="2.15"/><rect x="146" y="197.15" width="1" height="2.15"/><rect x="145" y="212.15" width="1" height="2.15"/><rect x="150" y="210.15" width="1" height="2.15"/><rect x="148" y="223.15" width="1" height="2.15"/><rect x="149" y="225.15" width="1" height="2.15"/><rect x="155" y="230.15" width="1" height="2.15"/><rect x="145" y="237.15" width="1" height="2.15"/><rect x="149" y="237.15" width="1" height="2.15"/><rect x="156" y="239.15" width="1" height="2.15"/><rect x="156" y="253.15" width="1" height="2.15"/><rect x="154" y="269.15" width="1" height="2.15"/><rect x="156" y="312.15" width="1" height="2.15"/><rect x="148" y="348.15" width="1" height="2.15"/><rect x="161" y="229.15" width="1" height="2.15"/><rect x="167" y="253.15" width="1" height="2.15"/><rect x="162" y="308.15" width="1" height="2.15"/><rect x="171" y="324.15" width="1" height="2.15"/><rect x="176" y="333.15" width="1" height="2.15"/><rect x="172" y="185.15" width="1" height="2.15"/><rect x="175" y="185.15" width="1" height="2.15"/><rect x="179" y="72.15" width="1" height="2.15"/><rect x="189" y="63.15" width="1" height="2.15"/><rect x="189" y="119.15" width="1" height="2.15"/><rect x="186" y="127.15" width="1" height="2.15"/><rect x="186" y="149.15" width="1" height="2.15"/><rect x="188" y="162.15" width="1" height="2.15"/><rect x="188" y="164.15" width="1" height="2.15"/><rect x="188" y="166.15" width="1" height="2.15"/><rect x="188" y="168.15" width="1" height="2.15"/><rect x="188" y="170.15" width="1" height="2.15"/><rect x="188" y="171.15" width="1" height="2.15"/><rect x="186" y="171.15" width="1" height="2.15"/><rect x="188" y="182.15" width="1" height="2.15"/><rect x="188" y="188.15" width="1" height="2.15"/><rect x="188" y="208.15" width="1" height="2.15"/><rect x="188" y="210.15" width="1" height="2.15"/><rect x="188" y="212.15" width="1" height="2.15"/><rect x="188" y="214.15" width="1" height="2.15"/><rect x="189" y="223.15" width="1" height="2.15"/><rect x="189" y="225.15" width="1" height="2.15"/><rect x="189" y="227.15" width="1" height="2.15"/><rect x="191" y="228.15" width="1" height="2.15"/><rect x="187" y="237.15" width="1" height="2.15"/><rect x="188" y="240.15" width="1" height="2.15"/><rect x="188" y="242.15" width="1" height="2.15"/><rect x="188" y="250.15" width="1" height="2.15"/><rect x="191" y="253.15" width="1" height="2.15"/><rect x="186" y="254.15" width="1" height="2.15"/><rect x="187" y="253.15" width="1" height="2.15"/><rect x="190" y="253.15" width="1" height="2.15"/><rect x="193" y="254.15" width="1" height="2.15"/><rect x="188" y="265.15" width="1" height="2.15"/><rect x="186" y="279.15" width="1" height="2.15"/><rect x="188" y="290.15" width="1" height="2.15"/><rect x="188" y="295.15" width="1" height="2.15"/><rect x="188" y="306.15" width="1" height="2.15"/><rect x="188" y="308.15" width="1" height="2.15"/><rect x="188" y="316.15" width="1" height="2.15"/><rect x="188" y="318.15" width="1" height="2.15"/><rect x="186" y="324.15" width="1" height="2.15"/><rect x="188" y="336.15" width="1" height="2.15"/><rect x="186" y="348.15" width="1" height="2.15"/><rect x="188" y="348.15" width="1" height="2.15"/><rect x="197" y="223.15" width="1" height="2.15"/><rect x="203" y="224.15" width="1" height="2.15"/><rect x="203" y="227.15" width="1" height="2.15"/><rect x="206" y="223.15" width="1" height="2.15"/><rect x="209" y="223.15" width="1" height="2.15"/><rect x="205" y="227.15" width="1" height="2.15"/><rect x="208" y="121.15" width="1" height="2.15"/><rect x="210" y="153.15" width="1" height="2.15"/><rect x="206" y="197.15" width="1" height="2.15"/><rect x="206" y="198.15" width="1" height="2.15"/><rect x="206" y="210.15" width="1" height="2.15"/><rect x="206" y="212.15" width="1" height="2.15"/><rect x="205" y="237.15" width="1" height="2.15"/><rect x="206" y="237.15" width="1" height="2.15"/><rect x="203" y="253.15" width="1" height="2.15"/><rect x="206" y="253.15" width="1" height="2.15"/><rect x="209" y="253.15" width="1" height="2.15"/><rect x="204" y="255.15" width="1" height="2.15"/><rect x="209" y="279.15" width="1" height="2.15"/><rect x="203" y="290.15" width="1" height="2.15"/><rect x="207" y="302.15" width="1" height="2.15"/><rect x="211" y="306.15" width="1" height="2.15"/><rect x="204" y="319.15" width="1" height="2.15"/><rect x="213" y="333.15" width="1" height="2.15"/><rect x="209" y="348.15" width="1" height="2.15"/><rect x="221" y="67.15" width="1" height="2.15"/><rect x="221" y="77.15" width="1" height="2.15"/><rect x="220" y="148.15" width="1" height="2.15"/><rect x="228" y="148.15" width="1" height="2.15"/><rect x="226" y="152.15" width="1" height="2.15"/><rect x="220" y="176.15" width="1" height="2.15"/><rect x="220" y="178.15" width="1" height="2.15"/><rect x="220" y="180.15" width="1" height="2.15"/><rect x="227" y="182.15" width="1" height="2.15"/><rect x="218" y="186.15" width="1" height="2.15"/><rect x="225" y="185.15" width="1" height="2.15"/><rect x="220" y="201.15" width="1" height="2.15"/><rect x="227" y="198.15" width="1" height="2.15"/><rect x="228" y="200.15" width="1" height="2.15"/><rect x="220" y="209.15" width="1" height="2.15"/><rect x="227" y="223.15" width="1" height="2.15"/><rect x="228" y="224.15" width="1" height="2.15"/><rect x="220" y="236.15" width="1" height="2.15"/><rect x="228" y="237.15" width="1" height="2.15"/><rect x="228" y="241.15" width="1" height="2.15"/><rect x="220" y="248.15" width="1" height="2.15"/><rect x="220" y="253.15" width="1" height="2.15"/><rect x="224" y="253.15" width="1" height="2.15"/><rect x="227" y="253.15" width="1" height="2.15"/><rect x="220" y="255.15" width="1" height="2.15"/><rect x="220" y="293.15" width="1" height="2.15"/><rect x="228" y="303.15" width="1" height="2.15"/><rect x="218" y="320.15" width="1" height="2.15"/><rect x="220" y="319.15" width="1" height="2.15"/><rect x="225" y="336.15" width="1" height="2.15"/><rect x="220" y="348.15" width="1" height="2.15"/><rect x="239" y="112.15" width="1" height="2.15"/><rect x="239" y="140.15" width="1" height="2.15"/><rect x="245" y="135.15" width="1" height="2.15"/><rect x="250" y="103.15" width="1" height="2.15"/><rect x="250" y="125.15" width="1" height="2.15"/><rect x="239" y="207.15" width="1" height="2.15"/><rect x="237" y="213.15" width="1" height="2.15"/><rect x="247" y="210.15" width="1" height="2.15"/><rect x="250" y="196.15" width="1" height="2.15"/><rect x="244" y="223.15" width="1" height="2.15"/><rect x="246" y="228.15" width="1" height="2.15"/><rect x="245" y="253.15" width="1" height="2.15"/><rect x="247" y="253.15" width="1" height="2.15"/><rect x="245" y="319.15" width="1" height="2.15"/><rect x="249" y="325.15" width="1" height="2.15"/><rect x="250" y="336.15" width="1" height="2.15"/><rect x="242" y="336.15" width="1" height="2.15"/><rect x="245" y="348.15" width="1" height="2.15"/><rect x="249" y="348.15" width="1" height="2.15"/><rect x="260" y="149.15" width="1" height="2.15"/><rect x="341" y="161.15" width="1" height="2.15"/><rect x="275" y="182.15" width="1" height="2.15"/><rect x="279" y="180.15" width="1" height="2.15"/><rect x="331" y="184.15" width="1" height="2.15"/><rect x="331" y="197.15" width="1" height="2.15"/><rect x="277" y="201.15" width="1" height="2.15"/><rect x="315" y="210.15" width="1" height="2.15"/><rect x="261" y="228.15" width="1" height="2.15"/><rect x="299" y="230.15" width="1" height="2.15"/><rect x="284" y="237.15" width="1" height="2.15"/><rect x="259" y="253.15" width="1" height="2.15"/><rect x="262" y="279.15" width="1" height="2.15"/><rect x="277" y="294.15" width="1" height="2.15"/><rect x="260" y="319.15" width="1" height="2.15"/><rect x="295" y="52.15" width="1" height="2.15"/></g></g>
</g>
<line x1="57" y1="350.9" x2="516" y2="8.0" stroke="#333" stroke-width="1.3" stroke-dasharray="3 1.9" shape-rendering="auto"/>
<text x="165.4" y="416.8" font-size="12" textLength="214.5" lengthAdjust="spacingAndGlyphs">Risk of miscarriage in control (log odds)</text>
<text transform="translate(10.4,290.3) rotate(-90)" font-size="11.8" textLength="202" lengthAdjust="spacingAndGlyphs">Risk of miscarriage in case (log odds)</text>
</svg>
</body></html>
